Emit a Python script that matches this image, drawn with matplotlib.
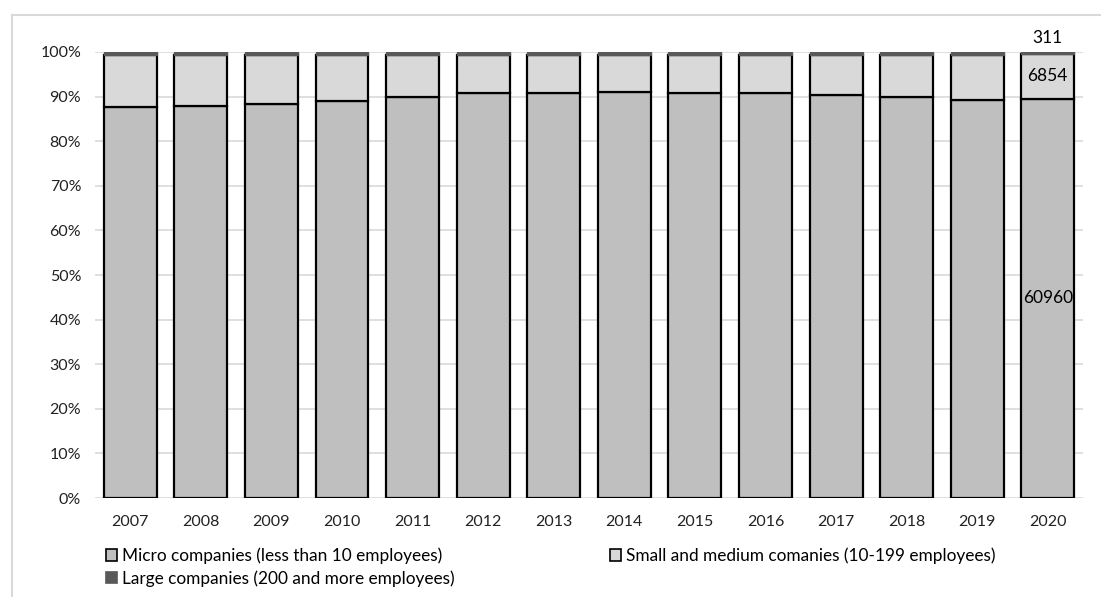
import numpy as np
import matplotlib.pyplot as plt
from matplotlib.lines import Line2D
from matplotlib.patches import Patch

years = ["2007", "2008", "2009", "2010", "2011", "2012", "2013",
         "2014", "2015", "2016", "2017", "2018", "2019", "2020"]
# shares in percent
micro = [87.7, 87.9, 88.4, 89.1, 90.0, 90.7, 90.9, 91.1, 90.9, 90.8, 90.3, 89.9, 89.3, 89.48]
small = [11.6, 11.4, 11.0, 10.3, 9.4, 8.7, 8.5, 8.3, 8.5, 8.6, 9.1, 9.5, 10.1, 10.06]
large = [0.7, 0.7, 0.6, 0.6, 0.6, 0.6, 0.6, 0.6, 0.6, 0.6, 0.6, 0.6, 0.6, 0.46]
# absolute counts shown for 2020
counts_2020 = {"micro": 60960, "small": 6854, "large": 311}

plt.rcParams["font.family"] = ["Lato", "DejaVu Sans"]

fig = plt.figure(figsize=(11.01, 5.97), dpi=100)
ax = fig.add_axes([0.0863, 0.1658, 0.8974, 0.7471])

x = np.arange(len(years))
w = 0.75
micro = np.array(micro)
small = np.array(small)
large = np.array(large)

ax.bar(x, micro, w, color="#BFBFBF", edgecolor="black", linewidth=1.6, zorder=3)
ax.bar(x, small, w, bottom=micro, color="#D9D9D9", edgecolor="black", linewidth=1.6, zorder=3)
ax.bar(x, large, w, bottom=micro + small, color="#595959", edgecolor="#595959", linewidth=1.0, zorder=4)

# labels on the 2020 bar
i = len(years) - 1
ax.text(x[i], micro[i] / 2, str(counts_2020["micro"]), ha="center", va="center", fontsize=12.5, zorder=5)
ax.text(x[i], micro[i] + small[i] / 2, str(counts_2020["small"]), ha="center", va="center", fontsize=12.5, zorder=5)
ax.text(x[i], 101.3, str(counts_2020["large"]), ha="center", va="bottom", fontsize=12.5, zorder=5)

ax.set_xlim(-0.5, len(years) - 0.5)
ax.set_ylim(0, 100)
ax.set_yticks(np.arange(0, 101, 10))
ax.set_yticklabels([f"{v}%" for v in range(0, 101, 10)])
ax.set_xticks(x)
ax.set_xticklabels(years)
ax.tick_params(axis="both", length=0, labelsize=11.5, colors="#222222")
ax.tick_params(axis="y", pad=10)
ax.tick_params(axis="x", pad=12)
ax.yaxis.grid(True, color="#D9D9D9", linewidth=1.2, zorder=0)
ax.set_axisbelow(True)
for s in ax.spines.values():
    s.set_visible(False)

handles = [
    Patch(facecolor="#BFBFBF", edgecolor="black", linewidth=1.2),
    Patch(facecolor="#595959", edgecolor="#595959", linewidth=1.2),
    Patch(facecolor="#D9D9D9", edgecolor="black", linewidth=1.2),
]
labels = [
    "Micro companies (less than 10 employees)",
    "Large companies (200 and more employees)",
    "Small and medium comanies (10-199 employees)",
]
fig.legend(handles, labels, ncol=2, frameon=False, fontsize=12.4,
           loc="upper left", bbox_to_anchor=(0.096, 0.083),
           handlelength=0.65, handleheight=0.65, handletextpad=0.3,
           columnspacing=9.0, labelspacing=0.35, borderaxespad=0, borderpad=0)

# chart frame
fig.add_artist(Line2D([12 / 1101, 1], [1 - 15 / 597, 1 - 15 / 597], color="#D9D9D9", linewidth=1.5))
fig.add_artist(Line2D([12 / 1101, 12 / 1101], [0, 1 - 15 / 597], color="#D9D9D9", linewidth=1.5))

fig.savefig("out.png", dpi=100)
